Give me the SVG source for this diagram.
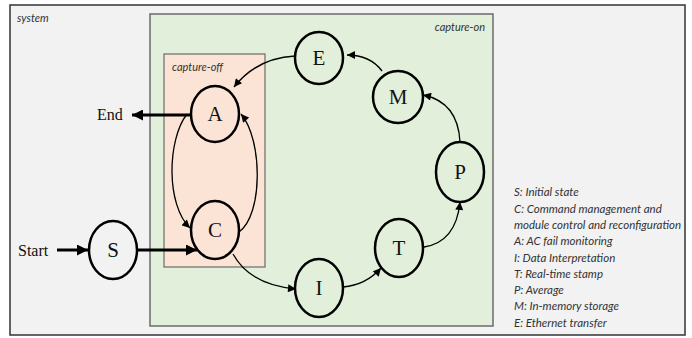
<svg xmlns="http://www.w3.org/2000/svg" width="692" height="338" viewBox="0 0 692 338">
  <defs>
    <marker id="head" viewBox="0 0 10 10" refX="10" refY="5" markerWidth="9" markerHeight="8" markerUnits="userSpaceOnUse" orient="auto">
      <path d="M0,0 L10,5 L0,10 z" fill="#000"/>
    </marker>
    <marker id="headBig" viewBox="0 0 10 10" refX="10" refY="5" markerWidth="11" markerHeight="11" markerUnits="userSpaceOnUse" orient="auto">
      <path d="M0,0 L10,5 L0,10 z" fill="#000"/>
    </marker>
    <style>
      .frame { fill: #f2f2f2; stroke: #333; stroke-width: 1.5; }
      .on { fill: #e2efda; stroke: #6b6b6b; stroke-width: 1.5; }
      .off { fill: #fbe4d5; stroke: #6b6b6b; stroke-width: 1.2; }
      .state { fill: none; stroke: #000; stroke-width: 2.5; }
      .lbl { font-family: "Liberation Serif", "Times New Roman", serif; font-size: 21px; text-anchor: middle; fill: #111; }
      .term { font-family: "Liberation Serif", "Times New Roman", serif; font-size: 16px; fill: #111; }
      .tag { font-family: Lato, "Liberation Sans", sans-serif; font-style: italic; font-size: 11px; fill: #333; }
      .key { font-family: Lato, "Liberation Sans", sans-serif; font-style: italic; font-size: 11.5px; fill: #333; }
      .edge { fill: none; stroke: #000; stroke-width: 1.3; marker-end: url(#head); }
      .thick { fill: none; stroke: #000; stroke-width: 3; marker-end: url(#headBig); }
    </style>
  </defs>

  <!-- containers -->
  <g id="system">
    <rect class="frame" x="10" y="5" width="675" height="330"/>
    <text class="tag" x="17" y="22">system</text>
  </g>
  <g id="capture-on">
    <rect class="on" x="150" y="14" width="343" height="312"/>
    <text class="tag" x="485" y="31" text-anchor="end">capture-on</text>
  </g>
  <g id="capture-off">
    <rect class="off" x="164" y="54" width="101" height="213"/>
    <text class="tag" x="172" y="71">capture-off</text>
  </g>

  <!-- transitions -->
  <g id="connectors">
    <path class="thick" d="M57,250 L88,250"/>
    <path class="thick" d="M137,250 L197,250"/>
    <path class="thick" d="M191,115 L132,115"/>
    <path class="edge" d="M187,114 C167,140 166,205 190,228"/>
    <path class="edge" d="M239,232 C263,215 263,140 241,114"/>
    <path class="edge" d="M233,254 Q250,285 296,289"/>
    <path class="edge" d="M343,287 Q366,285 381,268"/>
    <path class="edge" d="M424,247 Q456,242 460,202"/>
    <path class="edge" d="M460,142 Q458,102 423,95"/>
    <path class="edge" d="M382,71 Q370,55 347,55"/>
    <path class="edge" d="M295,56 Q257,58 234,87"/>
  </g>

  <!-- terminals -->
  <g id="start"><text class="term" x="18" y="256">Start</text></g>
  <g id="end"><text class="term" x="97" y="120">End</text></g>

  <!-- states -->
  <g id="S"><ellipse class="state" cx="113" cy="250" rx="24" ry="29"/><text class="lbl" x="113" y="257">S</text></g>
  <g id="A"><ellipse class="state" cx="215" cy="114" rx="24" ry="28"/><text class="lbl" x="215" y="121">A</text></g>
  <g id="C"><ellipse class="state" cx="215" cy="230" rx="24" ry="29"/><text class="lbl" x="215" y="237">C</text></g>
  <g id="I"><ellipse class="state" cx="319" cy="288" rx="24" ry="29"/><text class="lbl" x="319" y="295">I</text></g>
  <g id="T"><ellipse class="state" cx="399" cy="248" rx="24" ry="29"/><text class="lbl" x="399" y="255">T</text></g>
  <g id="P"><ellipse class="state" cx="460" cy="172" rx="24" ry="30"/><text class="lbl" x="460" y="179">P</text></g>
  <g id="M"><ellipse class="state" cx="398" cy="97" rx="25" ry="26"/><text class="lbl" x="398" y="104">M</text></g>
  <g id="E"><ellipse class="state" cx="319" cy="58" rx="24" ry="26"/><text class="lbl" x="319" y="65">E</text></g>

  <!-- key -->
  <g id="legend" class="key">
    <text x="514" y="196">S: Initial state</text>
    <text x="514" y="213">C: Command management and</text>
    <text x="514" y="229">module control and reconfiguration</text>
    <text x="514" y="245">A: AC fail monitoring</text>
    <text x="514" y="262">I: Data Interpretation</text>
    <text x="514" y="278">T: Real-time stamp</text>
    <text x="514" y="294">P: Average</text>
    <text x="514" y="310">M: In-memory storage</text>
    <text x="514" y="327">E: Ethernet transfer</text>
  </g>
</svg>
